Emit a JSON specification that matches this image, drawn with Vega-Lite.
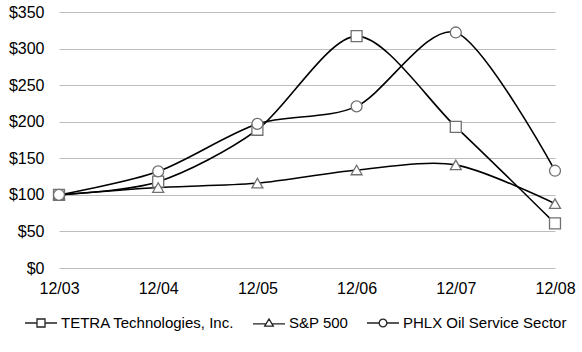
{
  "$schema": "https://vega.github.io/schema/vega-lite/v6.json",
  "width": 496,
  "height": 256,
  "autosize": "none",
  "padding": {"left": 59, "top": 12, "right": 27, "bottom": 84},
  "background": "white",
  "config": {
    "font": "Liberation Sans",
    "view": {"stroke": null}
  },
  "data": {
    "values": [
      {"period": "12/03", "series": "TETRA Technologies, Inc.", "value": 100},
      {"period": "12/04", "series": "TETRA Technologies, Inc.", "value": 118},
      {"period": "12/05", "series": "TETRA Technologies, Inc.", "value": 189},
      {"period": "12/06", "series": "TETRA Technologies, Inc.", "value": 317},
      {"period": "12/07", "series": "TETRA Technologies, Inc.", "value": 193},
      {"period": "12/08", "series": "TETRA Technologies, Inc.", "value": 61},
      {"period": "12/03", "series": "S&P 500", "value": 100},
      {"period": "12/04", "series": "S&P 500", "value": 110},
      {"period": "12/05", "series": "S&P 500", "value": 116},
      {"period": "12/06", "series": "S&P 500", "value": 134},
      {"period": "12/07", "series": "S&P 500", "value": 141},
      {"period": "12/08", "series": "S&P 500", "value": 88},
      {"period": "12/03", "series": "PHLX Oil Service Sector", "value": 100},
      {"period": "12/04", "series": "PHLX Oil Service Sector", "value": 132},
      {"period": "12/05", "series": "PHLX Oil Service Sector", "value": 197},
      {"period": "12/06", "series": "PHLX Oil Service Sector", "value": 221},
      {"period": "12/07", "series": "PHLX Oil Service Sector", "value": 322},
      {"period": "12/08", "series": "PHLX Oil Service Sector", "value": 133}
    ]
  },
  "encoding": {
    "x": {
      "field": "period",
      "type": "ordinal",
      "scale": {"type": "point", "padding": 0},
      "axis": {
        "title": null,
        "labelAngle": 0,
        "labelFontSize": 16,
        "labelColor": "#000000",
        "labelPadding": 12,
        "ticks": false,
        "domain": false,
        "grid": false
      }
    },
    "y": {
      "field": "value",
      "type": "quantitative",
      "scale": {"domain": [0, 350], "nice": false, "zero": true},
      "axis": {
        "title": null,
        "values": [0, 50, 100, 150, 200, 250, 300, 350],
        "labelExpr": "'$' + datum.value",
        "labelFontSize": 16,
        "labelColor": "#000000",
        "labelPadding": 15,
        "ticks": false,
        "domain": false,
        "grid": true,
        "gridColor": "#bdbdbd",
        "gridWidth": 1.2
      }
    }
  },
  "resolve": {"scale": {"shape": "independent"}, "legend": {"shape": "independent"}},
  "layer": [
    {
      "mark": {"type": "line", "interpolate": "cardinal", "tension": 0.15, "color": "#000000", "strokeWidth": 1.6},
      "encoding": {
        "detail": {"field": "series"}
      }
    },
    {
      "mark": {"type": "point", "filled": false, "fill": "white", "fillOpacity": 1, "stroke": "#707070", "strokeWidth": 1.3, "opacity": 1, "size": 120},
      "encoding": {
        "shape": {
          "field": "series",
          "type": "nominal",
          "scale": {
            "domain": ["TETRA Technologies, Inc.", "S&P 500", "PHLX Oil Service Sector"],
            "range": ["square", "triangle-up", "circle"]
          },
          "legend": null
        }
      }
    },
    {
      "transform": [{"filter": "datum.value < 0"}],
      "mark": {"type": "point", "filled": false, "fill": "white", "stroke": "#222222", "strokeWidth": 1.3},
      "encoding": {
        "shape": {
          "field": "series",
          "type": "nominal",
          "scale": {
            "domain": ["TETRA Technologies, Inc.", "S&P 500", "PHLX Oil Service Sector"],
            "range": [
              "M-1,0H-0.25M0.25,0H1M-0.25,-0.25H0.25V0.25H-0.25Z",
              "M-1,0.05H-0.2M0.2,0.05H1M-0.27,0.2L0,-0.25L0.27,0.2Z",
              "M-1,0H-0.24M0.24,0H1M-0.24,0A0.24,0.24 0 1,0 0.24,0A0.24,0.24 0 1,0 -0.24,0Z"
            ]
          },
          "legend": {
            "title": null,
            "orient": "none",
            "legendX": -35,
            "legendY": 294,
            "padding": 0,
            "direction": "horizontal",
            "columnPadding": 15,
            "labelFontSize": 15,
            "labelColor": "#000000",
            "labelLimit": 0,
            "labelOffset": 3,
            "symbolSize": 1024,
            "symbolStrokeWidth": 1.3,
            "symbolOpacity": 1
          }
        }
      }
    }
  ]
}
